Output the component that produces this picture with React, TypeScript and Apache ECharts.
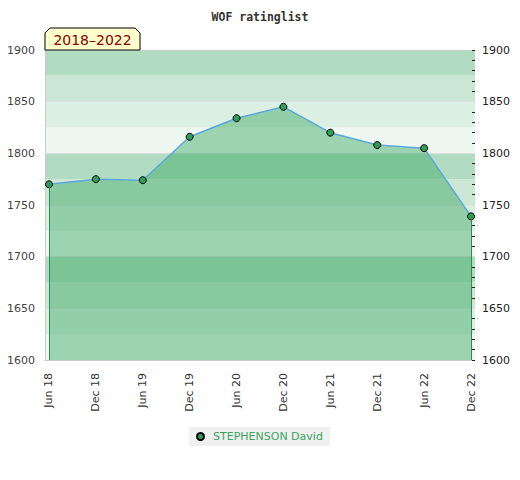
import React, { useEffect, useRef } from "react";
import * as echarts from "echarts";

const periods = ["Jun 18", "Dec 18", "Jun 19", "Dec 19", "Jun 20", "Dec 20", "Jun 21", "Dec 21", "Jun 22", "Dec 22"];
const ratings = [1770, 1775, 1774, 1816, 1834, 1845, 1820, 1808, 1805, 1739];
const yTicksLabels = [1600, 1650, 1700, 1750, 1800, 1850, 1900];
const gridLineValues = [1650, 1700, 1750, 1800, 1850];
const bandColors = ["#eff7f2", "#dcefe3", "#cbe6d5", "#b2dcc2"];
const seriesName = "STEPHENSON David";
const titleText = "WOF ratinglist";
const periodText = "2018–2022";

export default function App() {
  const ref = useRef<HTMLDivElement>(null);
  useEffect(() => {
    document.body.style.margin = "0";
    const chart = echarts.init(ref.current!, null, { renderer: "svg" });
    const data = periods.map((p, i) => [i, ratings[i]]);
    const last = periods.length - 1;
    chart.setOption({
      animation: false,
      title: {
        text: titleText,
        left: "center",
        top: 6,
        textStyle: { fontFamily: "DejaVu Sans Mono", fontSize: 11.5, fontWeight: "bold", color: "#333" },
      },
      legend: {
        data: [seriesName],
        left: 189,
        top: 427,
        padding: [4, 7, 4, 7],
        backgroundColor: "#f0f0f0",
        itemWidth: 15,
        itemHeight: 7,
        icon: "circle",
        textStyle: { fontFamily: "DejaVu Sans", fontSize: 11, color: "#3aa55f" },
      },
      grid: { left: 45, top: 50, width: 430, height: 310, containLabel: false },
      xAxis: [
        {
          type: "value",
          min: -0.085,
          max: 9.085,
          axisLine: { show: true, onZero: false, lineStyle: { color: "#cccccc" } },
          axisTick: { show: false },
          splitLine: { show: false },
          axisLabel: {
            customValues: periods.map((p, i) => i),
            formatter: (v: number) => periods[Math.round(v)] ?? "",
            rotate: 90,
            margin: 13,
            color: "#333",
            fontFamily: "DejaVu Sans",
            fontSize: 11,
          },
        },
        {
          type: "value",
          position: "top",
          min: -0.085,
          max: 9.085,
          axisLine: { show: true, onZero: false, lineStyle: { color: "#cccccc" } },
          axisTick: { show: false },
          axisLabel: { show: false },
          splitLine: { show: false },
        },
      ],
      yAxis: [
        {
          type: "value",
          position: "left",
          min: 1600,
          max: 1900,
          interval: 25,
          axisLine: { show: true, onZero: false, lineStyle: { color: "#cccccc" } },
          axisTick: { show: false },
          splitLine: { show: false },
          splitArea: { show: true, areaStyle: { color: bandColors } },
          axisLabel: {
            margin: 10,
            color: "#444",
            fontFamily: "DejaVu Sans",
            fontSize: 11,
            formatter: (v: number) => (yTicksLabels.includes(v) ? String(v) : ""),
          },
        },
        {
          type: "value",
          position: "right",
          min: 1600,
          max: 1900,
          interval: 10,
          axisLine: { show: false, onZero: false },
          axisTick: { show: true, inside: true, length: 3, lineStyle: { color: "#222" } },
          splitLine: { show: false },
          axisLabel: {
            margin: 7,
            color: "#222",
            fontFamily: "DejaVu Sans",
            fontSize: 11,
            formatter: (v: number) => (yTicksLabels.includes(v) ? String(v) : ""),
          },
        },
      ],
      series: [
        {
          name: "gridlines",
          type: "line",
          z: 1,
          xAxisIndex: 0,
          yAxisIndex: 0,
          data,
          symbol: "none",
          lineStyle: { opacity: 0 },
          silent: true,
          markLine: {
            z: 1,
            silent: true,
            symbol: "none",
            label: { show: false },
            lineStyle: { color: "#dedede", type: "solid", width: 1 },
            data: gridLineValues.map((v) => ({ yAxis: v })),
          },
        },
        {
          name: seriesName,
          type: "line",
          z: 2,
          xAxisIndex: 0,
          yAxisIndex: 0,
          data,
          symbol: "circle",
          symbolSize: 7,
          lineStyle: { color: "#5ca8dc", width: 1.5 },
          itemStyle: { color: "#2e9e58", borderColor: "#000", borderWidth: 1 },
          areaStyle: { color: "rgb(59,168,98)", opacity: 0.46, origin: "start" },
          markLine: {
            silent: true,
            symbol: "none",
            label: { show: false },
            lineStyle: { color: "#2e8b57", type: "solid", width: 1 },
            data: [
              [{ coord: [0, ratings[0]] }, { coord: [0, 1600] }],
              [{ coord: [last, ratings[last]] }, { coord: [last, 1600] }],
            ],
          },
        },
      ],
      graphic: [
        {
          type: "polygon",
          z: 100,
          shape: { points: [[45, 50], [45, 33], [50, 28], [135, 28], [140, 33], [140, 50]] },
          style: { fill: "#ffffcc", stroke: "#000", lineWidth: 1 },
        },
        {
          type: "text",
          z: 101,
          x: 92.5,
          y: 40,
          style: {
            text: periodText,
            fill: "#8b0000",
            font: "14px 'DejaVu Sans'",
            align: "center",
            verticalAlign: "middle",
          },
        },
      ],
    });
    return () => chart.dispose();
  }, []);
  return <div ref={ref} style={{ width: 520, height: 480 }} />;
}
